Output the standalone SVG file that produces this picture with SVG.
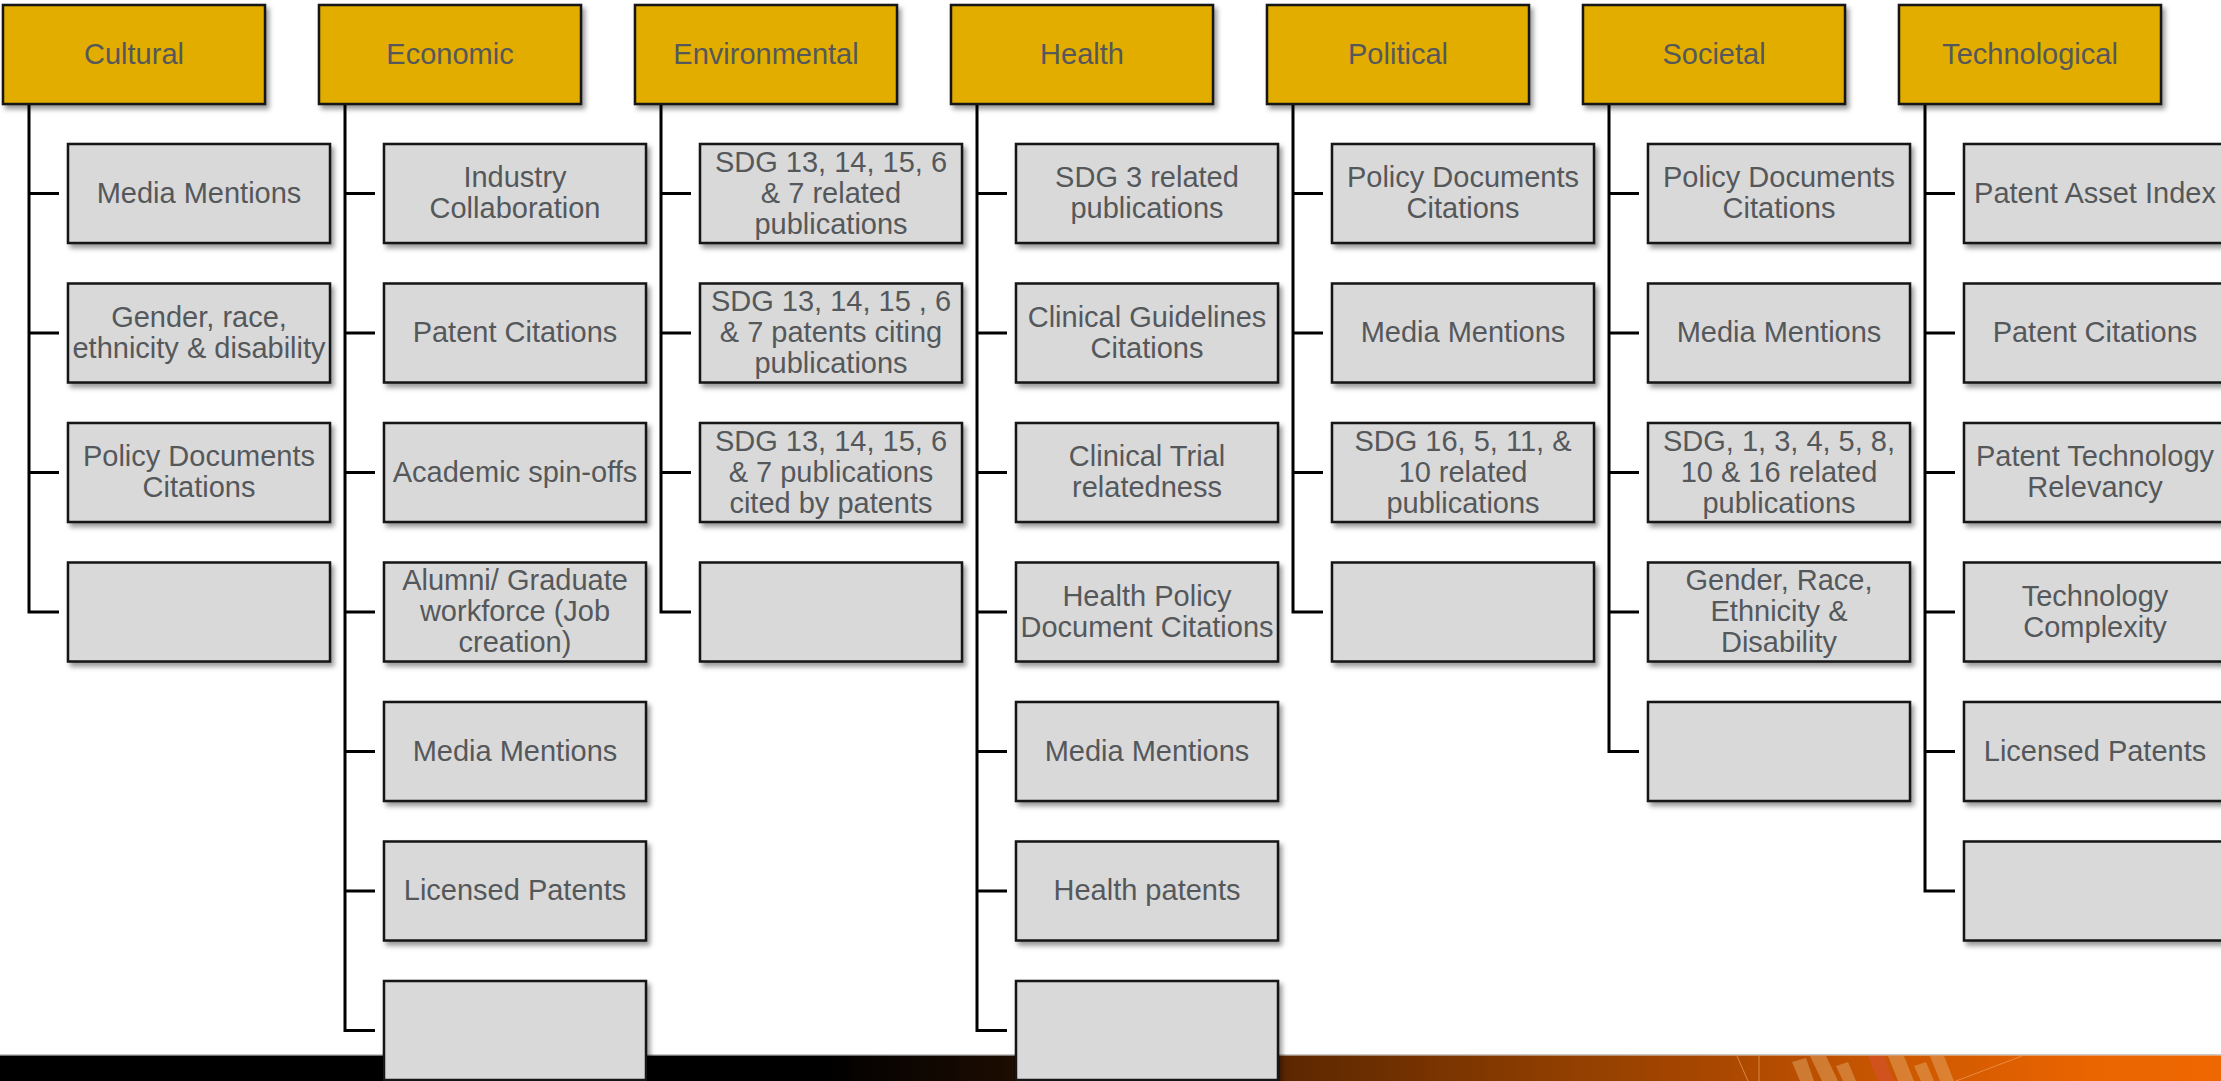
<svg xmlns="http://www.w3.org/2000/svg" width="2221" height="1081" viewBox="0 0 2221 1081">
  <style>
    .hdr rect { fill:#E3AD00; stroke:#141414; stroke-width:2.5; filter:url(#sh); }
    .box rect { fill:#D9D9D9; stroke:#141414; stroke-width:2.5; filter:url(#sh); }
    text { font-family:"Liberation Sans", Arial, sans-serif; font-size:29px; fill:#55585B; text-anchor:middle; }
    .conn path { fill:none; stroke:#000; stroke-width:3; }
  </style>
  <defs>
    <filter id="sh" x="-10%" y="-10%" width="125%" height="130%">
      <feDropShadow dx="3" dy="4" stdDeviation="2.5" flood-color="#000" flood-opacity="0.4"/>
    </filter>
    <linearGradient id="bar" x1="0" y1="0" x2="2221" y2="0" gradientUnits="userSpaceOnUse">
      <stop offset="0" stop-color="#000"/>
      <stop offset="0.37" stop-color="#000"/>
      <stop offset="0.46" stop-color="#1e0d02"/>
      <stop offset="0.58" stop-color="#5c2700"/>
      <stop offset="0.70" stop-color="#8f3e00"/>
      <stop offset="0.77" stop-color="#a84700"/>
      <stop offset="0.87" stop-color="#d15a00"/>
      <stop offset="0.94" stop-color="#ea6400"/>
      <stop offset="1" stop-color="#ee6700"/>
    </linearGradient>
  </defs>
  <rect width="2221" height="1081" fill="#fff"/>
  <!-- footer band -->
  <g id="footer">
    <rect x="0" y="1054" width="2221" height="1.5" fill="#c8c8c8"/>
    <rect x="0" y="1055.5" width="2221" height="25.5" fill="url(#bar)"/>
    <g fill="#e8b070" opacity="0.45">
      <polygon points="1792,1062 1806,1058 1814,1081 1800,1081"/>
      <polygon points="1810,1056 1826,1056 1838,1081 1822,1081"/>
      <polygon points="1836,1066 1848,1062 1856,1081 1843,1081"/>
      <polygon points="1888,1056 1904,1056 1914,1081 1898,1081"/>
      <polygon points="1914,1066 1926,1062 1934,1081 1921,1081"/>
      <polygon points="1930,1056 1944,1056 1954,1081 1940,1081"/>
    </g>
    <polygon points="1868,1056 1884,1056 1894,1081 1878,1081" fill="#d85030" opacity="0.6"/>
    <g stroke="#f0a060" stroke-width="1" opacity="0.7" fill="none">
      <line x1="1737" y1="1056" x2="1748" y2="1081"/>
      <line x1="1759" y1="1056" x2="1759" y2="1081"/>
      <line x1="1956" y1="1081" x2="2022" y2="1056"/>
    </g>
  </g>
  <!-- connectors -->
  <g id="connectors" class="conn">
    <path d="M29 104 V612 H59 M29 193.5 H59 M29 333 H59 M29 472.5 H59"/>
    <path d="M345 104 V1030.5 H375 M345 193.5 H375 M345 333 H375 M345 472.5 H375 M345 612 H375 M345 751.5 H375 M345 891 H375"/>
    <path d="M661 104 V612 H691 M661 193.5 H691 M661 333 H691 M661 472.5 H691"/>
    <path d="M977 104 V1030.5 H1007 M977 193.5 H1007 M977 333 H1007 M977 472.5 H1007 M977 612 H1007 M977 751.5 H1007 M977 891 H1007"/>
    <path d="M1293 104 V612 H1323 M1293 193.5 H1323 M1293 333 H1323 M1293 472.5 H1323"/>
    <path d="M1609 104 V751.5 H1639 M1609 193.5 H1639 M1609 333 H1639 M1609 472.5 H1639 M1609 612 H1639"/>
    <path d="M1925 104 V891 H1955 M1925 193.5 H1955 M1925 333 H1955 M1925 472.5 H1955 M1925 612 H1955 M1925 751.5 H1955"/>
  </g>
  <!-- headers -->
  <g id="h-cultural" class="hdr"><rect x="3" y="5" width="262" height="99"/><text x="134" y="64">Cultural</text></g>
  <g id="h-economic" class="hdr"><rect x="319" y="5" width="262" height="99"/><text x="450" y="64">Economic</text></g>
  <g id="h-environmental" class="hdr"><rect x="635" y="5" width="262" height="99"/><text x="766" y="64">Environmental</text></g>
  <g id="h-health" class="hdr"><rect x="951" y="5" width="262" height="99"/><text x="1082" y="64">Health</text></g>
  <g id="h-political" class="hdr"><rect x="1267" y="5" width="262" height="99"/><text x="1398" y="64">Political</text></g>
  <g id="h-societal" class="hdr"><rect x="1583" y="5" width="262" height="99"/><text x="1714" y="64">Societal</text></g>
  <g id="h-technological" class="hdr"><rect x="1899" y="5" width="262" height="99"/><text x="2030" y="64">Technological</text></g>

  <!-- Cultural -->
  <g id="cul-1" class="box"><rect x="68" y="144" width="262" height="99"/><text x="199" y="202.5">Media Mentions</text></g>
  <g id="cul-2" class="box"><rect x="68" y="283.5" width="262" height="99"/><text x="199" y="326.5">Gender, race,<tspan x="199" dy="31">ethnicity &amp; disability</tspan></text></g>
  <g id="cul-3" class="box"><rect x="68" y="423" width="262" height="99"/><text x="199" y="466">Policy Documents<tspan x="199" dy="31">Citations</tspan></text></g>
  <g id="cul-4" class="box"><rect x="68" y="562.5" width="262" height="99"/></g>

  <!-- Economic -->
  <g id="eco-1" class="box"><rect x="384" y="144" width="262" height="99"/><text x="515" y="187">Industry<tspan x="515" dy="31">Collaboration</tspan></text></g>
  <g id="eco-2" class="box"><rect x="384" y="283.5" width="262" height="99"/><text x="515" y="342">Patent Citations</text></g>
  <g id="eco-3" class="box"><rect x="384" y="423" width="262" height="99"/><text x="515" y="481.5">Academic spin-offs</text></g>
  <g id="eco-4" class="box"><rect x="384" y="562.5" width="262" height="99"/><text x="515" y="590">Alumni/ Graduate<tspan x="515" dy="31">workforce (Job</tspan><tspan x="515" dy="31">creation)</tspan></text></g>
  <g id="eco-5" class="box"><rect x="384" y="702" width="262" height="99"/><text x="515" y="760.5">Media Mentions</text></g>
  <g id="eco-6" class="box"><rect x="384" y="841.5" width="262" height="99"/><text x="515" y="900">Licensed Patents</text></g>
  <g id="eco-7" class="box"><rect x="384" y="981" width="262" height="99"/></g>

  <!-- Environmental -->
  <g id="env-1" class="box"><rect x="700" y="144" width="262" height="99"/><text x="831" y="171.5">SDG 13, 14, 15, 6<tspan x="831" dy="31">&amp; 7 related</tspan><tspan x="831" dy="31">publications</tspan></text></g>
  <g id="env-2" class="box"><rect x="700" y="283.5" width="262" height="99"/><text x="831" y="311">SDG 13, 14, 15 , 6<tspan x="831" dy="31">&amp; 7 patents citing</tspan><tspan x="831" dy="31">publications</tspan></text></g>
  <g id="env-3" class="box"><rect x="700" y="423" width="262" height="99"/><text x="831" y="450.5">SDG 13, 14, 15, 6<tspan x="831" dy="31">&amp; 7 publications</tspan><tspan x="831" dy="31">cited by patents</tspan></text></g>
  <g id="env-4" class="box"><rect x="700" y="562.5" width="262" height="99"/></g>

  <!-- Health -->
  <g id="hea-1" class="box"><rect x="1016" y="144" width="262" height="99"/><text x="1147" y="187">SDG 3 related<tspan x="1147" dy="31">publications</tspan></text></g>
  <g id="hea-2" class="box"><rect x="1016" y="283.5" width="262" height="99"/><text x="1147" y="326.5">Clinical Guidelines<tspan x="1147" dy="31">Citations</tspan></text></g>
  <g id="hea-3" class="box"><rect x="1016" y="423" width="262" height="99"/><text x="1147" y="466">Clinical Trial<tspan x="1147" dy="31">relatedness</tspan></text></g>
  <g id="hea-4" class="box"><rect x="1016" y="562.5" width="262" height="99"/><text x="1147" y="605.5">Health Policy<tspan x="1147" dy="31">Document Citations</tspan></text></g>
  <g id="hea-5" class="box"><rect x="1016" y="702" width="262" height="99"/><text x="1147" y="760.5">Media Mentions</text></g>
  <g id="hea-6" class="box"><rect x="1016" y="841.5" width="262" height="99"/><text x="1147" y="900">Health patents</text></g>
  <g id="hea-7" class="box"><rect x="1016" y="981" width="262" height="99"/></g>

  <!-- Political -->
  <g id="pol-1" class="box"><rect x="1332" y="144" width="262" height="99"/><text x="1463" y="187">Policy Documents<tspan x="1463" dy="31">Citations</tspan></text></g>
  <g id="pol-2" class="box"><rect x="1332" y="283.5" width="262" height="99"/><text x="1463" y="342">Media Mentions</text></g>
  <g id="pol-3" class="box"><rect x="1332" y="423" width="262" height="99"/><text x="1463" y="450.5">SDG 16, 5, 11, &amp;<tspan x="1463" dy="31">10 related</tspan><tspan x="1463" dy="31">publications</tspan></text></g>
  <g id="pol-4" class="box"><rect x="1332" y="562.5" width="262" height="99"/></g>

  <!-- Societal -->
  <g id="soc-1" class="box"><rect x="1648" y="144" width="262" height="99"/><text x="1779" y="187">Policy Documents<tspan x="1779" dy="31">Citations</tspan></text></g>
  <g id="soc-2" class="box"><rect x="1648" y="283.5" width="262" height="99"/><text x="1779" y="342">Media Mentions</text></g>
  <g id="soc-3" class="box"><rect x="1648" y="423" width="262" height="99"/><text x="1779" y="450.5">SDG, 1, 3, 4, 5, 8,<tspan x="1779" dy="31">10 &amp; 16 related</tspan><tspan x="1779" dy="31">publications</tspan></text></g>
  <g id="soc-4" class="box"><rect x="1648" y="562.5" width="262" height="99"/><text x="1779" y="590">Gender, Race,<tspan x="1779" dy="31">Ethnicity &amp;</tspan><tspan x="1779" dy="31">Disability</tspan></text></g>
  <g id="soc-5" class="box"><rect x="1648" y="702" width="262" height="99"/></g>

  <!-- Technological -->
  <g id="tec-1" class="box"><rect x="1964" y="144" width="262" height="99"/><text x="2095" y="202.5">Patent Asset Index</text></g>
  <g id="tec-2" class="box"><rect x="1964" y="283.5" width="262" height="99"/><text x="2095" y="342">Patent Citations</text></g>
  <g id="tec-3" class="box"><rect x="1964" y="423" width="262" height="99"/><text x="2095" y="466">Patent Technology<tspan x="2095" dy="31">Relevancy</tspan></text></g>
  <g id="tec-4" class="box"><rect x="1964" y="562.5" width="262" height="99"/><text x="2095" y="605.5">Technology<tspan x="2095" dy="31">Complexity</tspan></text></g>
  <g id="tec-5" class="box"><rect x="1964" y="702" width="262" height="99"/><text x="2095" y="760.5">Licensed Patents</text></g>
  <g id="tec-6" class="box"><rect x="1964" y="841.5" width="262" height="99"/></g>
</svg>
